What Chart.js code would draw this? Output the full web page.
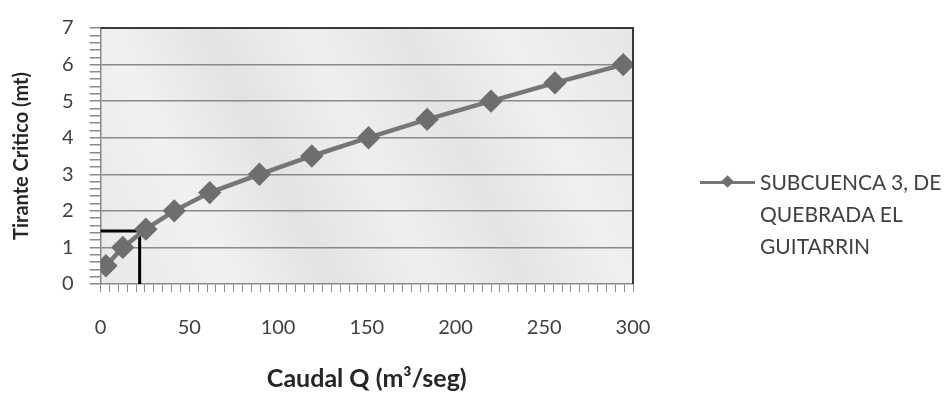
<!DOCTYPE html>
<html>
<head>
<meta charset="utf-8">
<script src="https://cdn.jsdelivr.net/npm/chart.js@4.4.1/dist/chart.umd.min.js"></script>
<style>
  body { margin: 0; background: #fff; }
  #wrap { position: relative; width: 950px; height: 394px; }
  #leyenda { position: absolute; left: 700px; top: 166px; font-family: Lato, "Open Sans", sans-serif; font-size: 21px; color: #404040; }
  #leyenda .muestra { position: absolute; left: 0; top: 15px; width: 55px; height: 3px; background: #767676; }
  #leyenda .muestra span { position: absolute; left: 23px; top: -4px; width: 9px; height: 9px; background: #6e6e6e; transform: rotate(45deg); }
  #leyenda .texto { position: absolute; left: 60px; top: 0; line-height: 32px; white-space: nowrap; }
</style>
</head>
<body>
<div id="wrap">
  <canvas id="grafico" width="950" height="394"></canvas>
  <div id="leyenda">
    <div class="muestra"><span></span></div>
    <div class="texto">SUBCUENCA 3, DE<br>QUEBRADA EL<br>GUITARRIN</div>
  </div>
</div>
<script>
// datos
const caudal = [3, 12.5, 25.5, 41.5, 61.5, 89.5, 119, 151, 184, 220, 256, 294.5];
const tirante = [0.5, 1.0, 1.5, 2.0, 2.5, 3.0, 3.5, 4.0, 4.5, 5.0, 5.5, 6.0];
const corteQ = [0, 22, 22];
const corteY = [1.45, 1.45, 0];
const ticksX = [0, 50, 100, 150, 200, 250, 300];
const ticksY = [0, 1, 2, 3, 4, 5, 6, 7];

const esEntero = v => Math.abs(v - Math.round(v)) < 1e-6;

const fondo = {
    id: 'fondo',
    beforeDraw(chart) {
        const { ctx, chartArea: a } = chart;
        const g = ctx.createLinearGradient(a.left, a.bottom, a.right, a.top);
        g.addColorStop(0, '#e8e8e8');
        g.addColorStop(0.2, '#f1f1f1');
        g.addColorStop(0.35, '#e3e3e3');
        g.addColorStop(0.5, '#efefef');
        g.addColorStop(0.65, '#e4e4e4');
        g.addColorStop(0.8, '#f0f0f0');
        g.addColorStop(1, '#e6e6e6');
        ctx.save();
        ctx.fillStyle = g;
        ctx.fillRect(a.left, a.top, a.right - a.left, a.bottom - a.top);
        ctx.restore();
    },
    afterDatasetsDraw(chart) {
        const { ctx, chartArea: a } = chart;
        ctx.save();
        ctx.strokeStyle = '#3a3a3a';
        ctx.lineWidth = 2;
        ctx.beginPath();
        ctx.moveTo(a.left, a.top);
        ctx.lineTo(a.right, a.top);
        ctx.lineTo(a.right, a.bottom);
        ctx.stroke();
        ctx.restore();
    }
};

const ctx = document.getElementById('grafico').getContext('2d');
new Chart(ctx, {
    type: 'line',
    data: {
        datasets: [
            {
                label: 'SUBCUENCA 3, DE QUEBRADA EL GUITARRIN',
                data: caudal.map((q, i) => ({ x: q, y: tirante[i] })),
                borderColor: '#767676',
                borderWidth: 4.5,
                pointStyle: 'rectRot',
                pointRadius: 8.5,
                pointBackgroundColor: '#6e6e6e',
                pointBorderColor: '#6e6e6e',
                tension: 0
            },
            {
                label: 'corte',
                data: corteQ.map((q, i) => ({ x: q, y: corteY[i] })),
                borderColor: '#000',
                borderWidth: 3,
                pointRadius: 0,
                clip: false
            }
        ]
    },
    options: {
        responsive: false,
        animation: false,
        layout: { padding: { left: 6, right: 317, top: 10, bottom: 0 } },
        plugins: { legend: { display: false }, tooltip: { enabled: false } },
        scales: {
            x: {
                type: 'linear', min: 0, max: 300,
                ticks: {
                    stepSize: 5, autoSkip: false, maxRotation: 0,
                    padding: 24, color: '#404040',
                    font: { family: 'Lato', size: 20 },
                    callback: v => ticksX.includes(v) ? v : ''
                },
                grid: { drawOnChartArea: false, tickLength: 8, tickColor: '#8a8a8a' },
                border: { color: '#8a8a8a', width: 1.5 },
                title: {
                    display: true, text: 'Caudal Q (m³/seg)', color: '#262626',
                    font: { family: 'Lato', size: 25, weight: 'bold' },
                    padding: { top: 0, bottom: 0 }
                }
            },
            y: {
                min: 0, max: 7,
                ticks: {
                    stepSize: 0.2, autoSkip: false,
                    padding: 16, color: '#404040',
                    font: { family: 'Lato', size: 20 },
                    callback: v => esEntero(v) && ticksY.includes(Math.round(v)) ? Math.round(v) : ''
                },
                grid: {
                    tickLength: 11, tickColor: '#8a8a8a', lineWidth: 1.5,
                    color: c => esEntero(c.tick.value) && c.tick.value > 0 ? '#8a8a8a' : 'rgba(0,0,0,0)'
                },
                border: { color: '#8a8a8a', width: 1.5 },
                title: {
                    display: true, text: 'Tirante Critico (mt)', color: '#262626',
                    font: { family: 'Lato', size: 20, weight: 'bold' },
                    padding: { top: 4, bottom: 12 }
                }
            }
        }
    },
    plugins: [fondo]
});
</script>
</body>
</html>
